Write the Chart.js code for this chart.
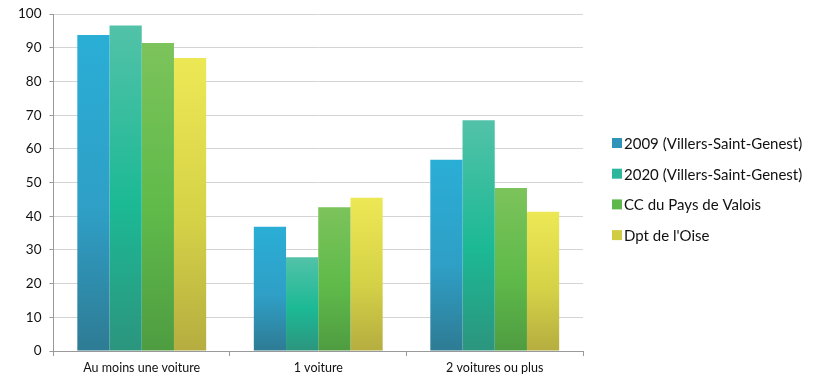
<!DOCTYPE html>
<html>
<head>
<meta charset="utf-8">
<script src="https://cdn.jsdelivr.net/npm/chart.js@4"></script>
<style>
  html, body { margin: 0; padding: 0; background: #fff; }
  #wrap { width: 825px; height: 379px; position: relative; }
</style>
</head>
<body>
<div id="wrap"><canvas id="chart"></canvas></div>
<script>
// Categories and series
const categories = ['Au moins une voiture', '1 voiture', '2 voitures ou plus'];
const seriesNames = ['2009 (Villers-Saint-Genest)', '2020 (Villers-Saint-Genest)', 'CC du Pays de Valois', "Dpt de l'Oise"];
const values2009 = [93.8, 36.9, 56.8];
const values2020 = [96.6, 27.8, 68.5];
const valuesCC = [91.4, 42.7, 48.4];
const valuesDpt = [87.0, 45.5, 41.3];
const yTicks = [0, 10, 20, 30, 40, 50, 60, 70, 80, 90, 100];

// gradient stops per series: top, middle, bottom
const gradients = [
    ['#2aaed6', '#2f9fc6', '#2e7b94'],
    ['#52c2a8', '#1cb995', '#2c957e'],
    ['#7cc35b', '#5fba4a', '#4f9c41'],
    ['#ece855', '#d6d247', '#b5ad40']
];
const legendColors = ['#2f93ba', '#2cb79c', '#5fb84b', '#d0cd42'];

function barGradient(i) {
    return function (context) {
        const chart = context.chart;
        if (!chart.chartArea || context.dataIndex === undefined) return legendColors[i];
        const y = chart.scales.y;
        const top = y.getPixelForValue(context.raw);
        const bottom = y.getPixelForValue(0);
        const g = chart.ctx.createLinearGradient(0, top, 0, bottom);
        g.addColorStop(0, gradients[i][0]);
        g.addColorStop(0.55, gradients[i][1]);
        g.addColorStop(1, gradients[i][2]);
        return g;
    };
}

// Legend drawn on the right, next to the plot
const sideLegend = {
    id: 'sideLegend',
    afterDraw(chart) {
        const ctx = chart.ctx;
        const x = chart.chartArea.right + 29;
        const y0 = 143;
        const step = 30.7;
        ctx.save();
        ctx.font = '15px Lato';
        ctx.textBaseline = 'middle';
        ctx.textAlign = 'left';
        seriesNames.forEach((name, i) => {
            const y = y0 + i * step;
            ctx.fillStyle = legendColors[i];
            ctx.fillRect(x, y - 5, 10, 10);
            ctx.fillStyle = '#111';
            ctx.fillText(name, x + 12, y + 1);
        });
        ctx.restore();
    }
};

const allValues = [values2009, values2020, valuesCC, valuesDpt];

function draw() {
    new Chart(document.getElementById('chart'), {
        type: 'bar',
        data: {
            labels: categories,
            datasets: allValues.map((vals, i) => ({
                label: seriesNames[i],
                data: vals,
                backgroundColor: barGradient(i),
                borderWidth: 0,
                categoryPercentage: 0.73,
                barPercentage: 1
            }))
        },
        options: {
            responsive: true,
            maintainAspectRatio: false,
            animation: false,
            layout: {
                padding: { left: 10, top: 1, right: 242, bottom: 0 }
            },
            plugins: {
                tooltip: { enabled: false },
                legend: { display: false }
            },
            scales: {
                x: {
                    grid: {
                        display: true,
                        drawOnChartArea: false,
                        drawTicks: true,
                        tickLength: 5,
                        color: '#999'
                    },
                    border: { color: '#999' },
                    ticks: {
                        font: { family: 'Lato', size: 12.5 },
                        color: '#111',
                        padding: 4
                    }
                },
                y: {
                    min: 0,
                    max: 100,
                    afterBuildTicks: function (axis) {
                        axis.ticks = yTicks.map(v => ({ value: v }));
                    },
                    grid: {
                        color: '#d4d4d4',
                        tickLength: 4,
                        tickColor: '#999'
                    },
                    border: { color: '#999' },
                    ticks: {
                        font: { family: 'Lato', size: 13.5, lineHeight: 0.9 },
                        color: '#111',
                        padding: 8
                    }
                }
            }
        },
        plugins: [sideLegend]
    });
}

Promise.all([
    document.fonts.load('15px Lato'),
    document.fonts.load('12px Lato')
]).then(draw, draw);
</script>
</body>
</html>
